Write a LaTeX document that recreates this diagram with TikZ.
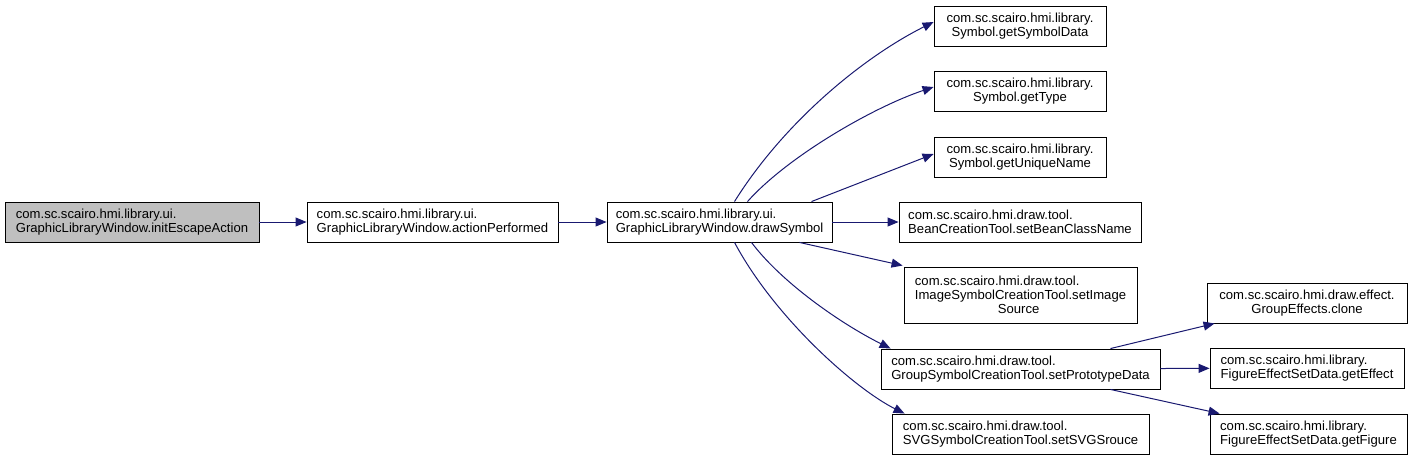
\documentclass[tikz,border=0pt]{standalone}
\usepackage{fontspec}
\setmainfont{Liberation Sans}
\usetikzlibrary{arrows.meta}
\definecolor{edgec}{HTML}{191970}
\definecolor{fillg}{HTML}{BFBFBF}
\begin{document}
\begin{tikzpicture}[x=1pt,y=-1pt,
  box/.style={draw=black,line width=0.9pt,rectangle,inner sep=0pt,font=\fontsize{13.1}{14.2}\selectfont},
  call/.style={draw=edgec,line width=1pt,-{Triangle[length=11pt,width=9pt]}}]
\useasboundingbox (0,0) rectangle (1412,460);
\newcommand{\bx}[6]{\node[box,minimum width={#4-#2},minimum height={#5-#3},#6] (#1) at ({(#2+#4)/2},{(#3+#5)/2})}
\bx{n1}{5}{202}{259}{242}{fill=fillg,align=left}{com.sc.scairo.hmi.library.ui.\\GraphicLibraryWindow.initEscapeAction};
\bx{n2}{307}{202}{558}{242}{align=left}{com.sc.scairo.hmi.library.ui.\\GraphicLibraryWindow.actionPerformed};
\bx{n3}{607}{202}{832}{242}{align=left}{com.sc.scairo.hmi.library.ui.\\GraphicLibraryWindow.drawSymbol};
\bx{s1}{934}{6}{1106}{46}{align=center}{com.sc.scairo.hmi.library.\\Symbol.getSymbolData};
\bx{s2}{934}{71}{1106}{111}{align=center}{com.sc.scairo.hmi.library.\\Symbol.getType};
\bx{s3}{934}{137}{1106}{177}{align=center}{com.sc.scairo.hmi.library.\\Symbol.getUniqueName};
\bx{b}{899}{202}{1141}{242}{align=left}{com.sc.scairo.hmi.draw.tool.\\BeanCreationTool.setBeanClassName};
\bx{i}{904}{267}{1137}{323}{align=left}{com.sc.scairo.hmi.draw.tool.\\ImageSymbolCreationTool.setImage\\\hspace*{83pt}Source};
\bx{g}{881}{349}{1160}{389}{align=left}{com.sc.scairo.hmi.draw.tool.\\GroupSymbolCreationTool.setPrototypeData};
\bx{v}{892}{414}{1149}{454}{align=left}{com.sc.scairo.hmi.draw.tool.\\SVGSymbolCreationTool.setSVGSrouce};
\bx{c}{1207}{283}{1407}{323}{align=center}{com.sc.scairo.hmi.draw.effect.\\GroupEffects.clone};
\bx{e}{1210}{348}{1404}{388}{align=left}{com.sc.scairo.hmi.library.\\FigureEffectSetData.getEffect};
\bx{f}{1210}{414}{1407}{454}{align=left}{com.sc.scairo.hmi.library.\\FigureEffectSetData.getFigure};
\draw[call] (n1) -- (n2);
\draw[call] (n2) -- (n3);
\draw[call] ([xshift=15pt]n3.north) .. controls +(50,-80) and +(-70,35) .. ([yshift=4pt]s1.west);
\draw[call] ([xshift=28pt]n3.north) .. controls +(40,-45) and +(-60,20) .. ([yshift=4pt]s2.west);
\draw[call] ([xshift=92pt]n3.north) -- ([yshift=3pt]s3.west);
\draw[call] (n3) -- (b);
\draw[call] ([xshift=80pt]n3.south) -- ([xshift=-1pt,yshift=1pt]i.north west);
\draw[call] ([xshift=32pt]n3.south) .. controls +(30,40) and +(-50,-25) .. ([xshift=10pt]g.north west);
\draw[call] ([xshift=15pt]n3.south) .. controls +(40,75) and +(-50,-25) .. ([xshift=13pt]v.north west);
\draw[call] ([xshift=-50pt]g.north east) -- ([xshift=8pt]c.south west);
\draw[call] (g) -- (e);
\draw[call] ([xshift=-50pt]g.south east) -- ([xshift=10pt]f.north west);
\end{tikzpicture}
\end{document}
